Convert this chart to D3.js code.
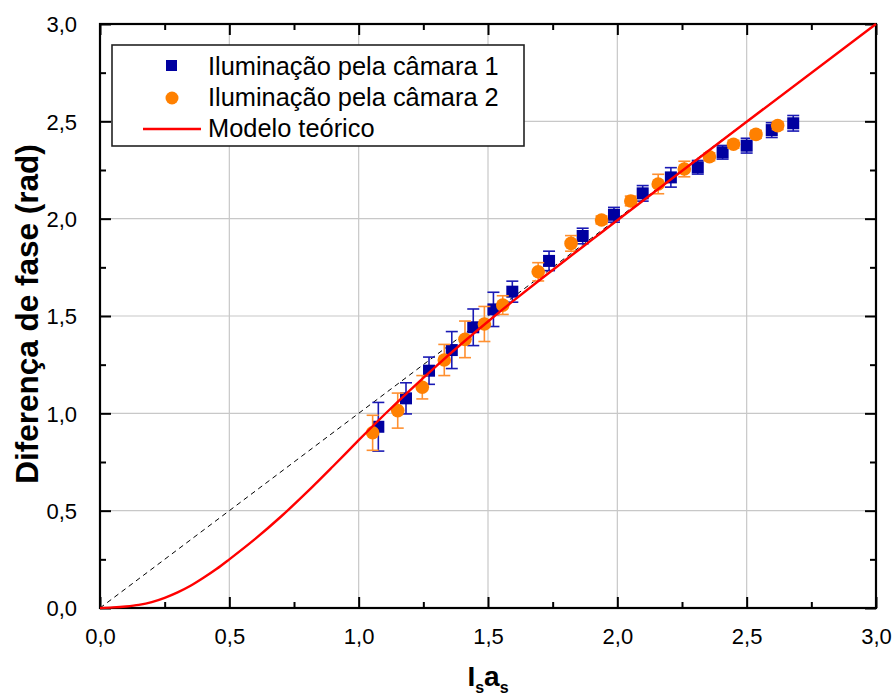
<!DOCTYPE html>
<html><head><meta charset="utf-8">
<script src="https://cdn.jsdelivr.net/npm/d3@7"></script>
<style>
html,body{margin:0;padding:0;background:#fff;}
svg text{font-family:"Liberation Sans",Arial,sans-serif;}
</style></head>
<body>
<svg id="chart" width="893" height="697"></svg>
<script>
// ---- data ----
const xTicks = [0, 0.5, 1.0, 1.5, 2.0, 2.5, 3.0];
const yTicks = [0, 0.5, 1.0, 1.5, 2.0, 2.5, 3.0];
const xTickLabels = ["0,0","0,5","1,0","1,5","2,0","2,5","3,0"];
const yTickLabels = ["0,0","0,5","1,0","1,5","2,0","2,5","3,0"];
const minorTicks = [0.25, 0.75, 1.25, 1.75, 2.25, 2.75];

// Iluminação pela câmara 1 : x, y, error
const cam1X = [1.076,1.183,1.272,1.360,1.443,1.521,1.594,1.736,1.866,1.987,2.098,2.207,2.311,2.407,2.500,2.597,2.680];
const cam1Y = [0.931,1.077,1.219,1.325,1.442,1.534,1.625,1.783,1.911,2.020,2.130,2.212,2.264,2.341,2.375,2.455,2.490];
const cam1E = [0.125,0.080,0.070,0.095,0.094,0.088,0.054,0.050,0.040,0.038,0.040,0.050,0.035,0.035,0.038,0.038,0.040];

// Iluminação pela câmara 2
const cam2X = [1.054,1.151,1.246,1.331,1.411,1.486,1.557,1.694,1.821,1.939,2.052,2.158,2.259,2.356,2.449,2.536,2.620];
const cam2Y = [0.900,1.014,1.134,1.274,1.380,1.459,1.556,1.727,1.873,1.993,2.091,2.178,2.255,2.318,2.382,2.433,2.478];
const cam2E = [0.090,0.090,0.060,0.080,0.094,0.090,0.048,0.047,0.040,0.020,0.025,0.050,0.040,0.020,0.020,0.020,0.020];

// Modelo teórico
const modelX = [0,0.05,0.10,0.15,0.20,0.25,0.30,0.35,0.40,0.45,0.50,0.60,0.70,0.80,0.90,1.00,1.10,1.20,1.30,1.40,1.50,1.60,1.70,1.80,1.90,2.00,2.20,2.50,3.00];
const modelY = [0,0.003,0.008,0.016,0.030,0.052,0.080,0.114,0.155,0.200,0.250,0.355,0.470,0.595,0.727,0.862,0.994,1.121,1.243,1.360,1.472,1.580,1.685,1.788,1.890,1.992,2.195,2.498,3.000];

// linear reference (dashed)
const refX = [0, 3];
const refY = [0, 3];

const legendLabels = ["Iluminação pela câmara 1","Iluminação pela câmara 2","Modelo teórico"];

// ---- layout ----
const svg = d3.select("#chart");
const L = 100, R = 876, T = 24, B = 608;
const x = d3.scaleLinear().domain([0,3]).range([L,R]);
const y = d3.scaleLinear().domain([0,3]).range([B,T]);

const blue = "#0000a0", orange = "#ff8000", red = "#ff0000";

// grid
const g = svg.append("g");
g.selectAll("line.gx").data(xTicks.slice(1,-1)).join("line")
  .attr("x1",d=>x(d)).attr("x2",d=>x(d)).attr("y1",T).attr("y2",B)
  .attr("stroke","#c8c8c8").attr("stroke-width",1.2);
g.selectAll("line.gy").data(yTicks.slice(1,-1)).join("line")
  .attr("y1",d=>y(d)).attr("y2",d=>y(d)).attr("x1",L).attr("x2",R)
  .attr("stroke","#c8c8c8").attr("stroke-width",1.2);

// axes with inward ticks
function tickFmt(labels, ticks){ return (d)=>{ const i = ticks.indexOf(d); return i>=0?labels[i]:""; }; }
const axB = svg.append("g").attr("transform",`translate(0,${B})`)
  .call(d3.axisBottom(x).tickValues(xTicks).tickSizeInner(-11).tickSizeOuter(0).tickPadding(20).tickFormat(tickFmt(xTickLabels,xTicks)));
const axBm = svg.append("g").attr("transform",`translate(0,${B})`)
  .call(d3.axisBottom(x).tickValues(minorTicks).tickSizeInner(-6).tickSizeOuter(0).tickFormat(""));
const axT = svg.append("g").attr("transform",`translate(0,${T})`)
  .call(d3.axisTop(x).tickValues(xTicks).tickSizeInner(-11).tickSizeOuter(0).tickFormat(""));
const axTm = svg.append("g").attr("transform",`translate(0,${T})`)
  .call(d3.axisTop(x).tickValues(minorTicks).tickSizeInner(-6).tickSizeOuter(0).tickFormat(""));
const axL = svg.append("g").attr("transform",`translate(${L},0)`)
  .call(d3.axisLeft(y).tickValues(yTicks).tickSizeInner(-11).tickSizeOuter(0).tickPadding(23).tickFormat(tickFmt(yTickLabels,yTicks)));
const axLm = svg.append("g").attr("transform",`translate(${L},0)`)
  .call(d3.axisLeft(y).tickValues(minorTicks).tickSizeInner(-6).tickSizeOuter(0).tickFormat(""));
const axR = svg.append("g").attr("transform",`translate(${R},0)`)
  .call(d3.axisRight(y).tickValues(yTicks).tickSizeInner(-11).tickSizeOuter(0).tickFormat(""));
const axRm = svg.append("g").attr("transform",`translate(${R},0)`)
  .call(d3.axisRight(y).tickValues(minorTicks).tickSizeInner(-6).tickSizeOuter(0).tickFormat(""));
[axB,axBm,axT,axTm,axL,axLm,axR,axRm].forEach(a=>{
  a.select(".domain").remove();
  a.selectAll(".tick line").attr("stroke","#000").attr("stroke-width",2);
  a.selectAll(".tick text").attr("font-size",22).attr("fill","#000")
   .attr("font-family",'"Liberation Sans",Arial,sans-serif');
});
axL.selectAll(".tick text").attr("dy","0.36em");

// frame
svg.append("rect").attr("x",L).attr("y",T).attr("width",R-L).attr("height",B-T)
  .attr("fill","none").attr("stroke","#000").attr("stroke-width",2.2);

// dashed reference
const line = d3.line().x(d=>x(d[0])).y(d=>y(d[1]));
svg.append("path").datum(d3.zip(refX,refY)).attr("d",line)
  .attr("fill","none").attr("stroke","#000").attr("stroke-width",1).attr("stroke-dasharray","5,4");

// error bars + markers
function errorBars(xs, ys, es, color){
  const data = d3.zip(xs,ys,es);
  const eg = svg.append("g").attr("stroke",color).attr("stroke-width",1.6).attr("fill","none");
  eg.selectAll("line.v").data(data).join("line")
    .attr("x1",d=>x(d[0])).attr("x2",d=>x(d[0])).attr("y1",d=>y(d[1]+d[2])).attr("y2",d=>y(d[1]-d[2]));
  eg.selectAll("line.t").data(data).join("line")
    .attr("x1",d=>x(d[0])-6).attr("x2",d=>x(d[0])+6).attr("y1",d=>y(d[1]+d[2])).attr("y2",d=>y(d[1]+d[2]));
  eg.selectAll("line.b").data(data).join("line")
    .attr("x1",d=>x(d[0])-6).attr("x2",d=>x(d[0])+6).attr("y1",d=>y(d[1]-d[2])).attr("y2",d=>y(d[1]-d[2]));
}
errorBars(cam1X,cam1Y,cam1E,"#1a1ab4");
svg.append("g").selectAll("rect").data(d3.zip(cam1X,cam1Y)).join("rect")
  .attr("x",d=>x(d[0])-6).attr("y",d=>y(d[1])-6).attr("width",12).attr("height",12).attr("fill",blue);
errorBars(cam2X,cam2Y,cam2E,"#ff9030");
svg.append("g").selectAll("circle").data(d3.zip(cam2X,cam2Y)).join("circle")
  .attr("cx",d=>x(d[0])).attr("cy",d=>y(d[1])).attr("r",6.8).attr("fill",orange);

// model curve
svg.append("path").datum(d3.zip(modelX,modelY))
  .attr("d",d3.line().x(d=>x(d[0])).y(d=>y(d[1])).curve(d3.curveMonotoneX))
  .attr("fill","none").attr("stroke",red).attr("stroke-width",2.4);

// legend
const lg = svg.append("g");
lg.append("rect").attr("x",112).attr("y",45).attr("width",412).attr("height",101)
  .attr("fill","#fff").attr("stroke","#222").attr("stroke-width",1.6);
lg.append("rect").attr("x",166).attr("y",60).attr("width",11).attr("height",11).attr("fill",blue);
lg.append("circle").attr("cx",172).attr("cy",98).attr("r",6.5).attr("fill",orange);
lg.append("line").attr("x1",143).attr("x2",201).attr("y1",129).attr("y2",129).attr("stroke",red).attr("stroke-width",2.4);
lg.selectAll("text").data(legendLabels).join("text")
  .attr("x",208).attr("y",(d,i)=>75+i*31).attr("font-size",25.4).attr("fill","#000").text(d=>d);

// axis titles
svg.append("text").attr("transform","translate(38,314) rotate(-90)")
  .attr("text-anchor","middle").attr("font-size",31.5).attr("font-weight","bold").text("Diferença de fase (rad)");
const xt = svg.append("text").attr("x",488).attr("y",686).attr("text-anchor","middle")
  .attr("font-size",28).attr("font-weight","bold");
xt.append("tspan").text("I");
xt.append("tspan").attr("font-size",16).attr("dy",7).text("s");
xt.append("tspan").attr("dy",-7).text("a");
xt.append("tspan").attr("font-size",16).attr("dy",7).text("s");
</script>
</body></html>
